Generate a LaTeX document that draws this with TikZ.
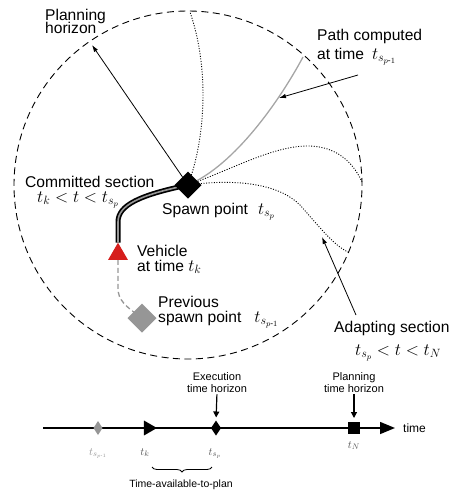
\documentclass[tikz,border=0pt]{standalone}
\usepackage{fontspec}
\setmainfont{Liberation Sans}
\usepackage{amsmath}
\usetikzlibrary{arrows.meta,shapes.geometric,decorations.pathreplacing}
\definecolor{vred}{RGB}{214,30,28}
\definecolor{pgray}{RGB}{165,165,165}
\definecolor{dgray}{RGB}{150,150,150}
\definecolor{lgray}{RGB}{85,85,85}
\pgfdeclarelayer{bg}
\pgfsetlayers{bg,main}
\newcommand\mytwoline[3]{\vtop{\baselineskip=#1\lineskiplimit=-100pt\lineskip=0pt\hbox{#2}\hbox{#3}}}
\newcommand\mybigmath[1]{{\fontsize{17}{17}\selectfont#1}}
\begin{document}
\begin{tikzpicture}[x=1pt,y=-1pt,
  lbl/.style={anchor=base west, inner sep=0pt, font=\fontsize{15.6}{15.6}\selectfont},
  smalllbl/.style={anchor=base, inner sep=0pt, font=\fontsize{11}{11}\selectfont},
  tlab/.style={anchor=base, inner sep=0pt, font=\fontsize{11}{11}\selectfont, text=lgray},
  dotpath/.style={line width=0.9pt, dash pattern=on 1pt off 1.6pt},
  thinarrow/.style={line width=0.8pt, -{Latex[length=7pt,width=4.5pt]}},
  downarrow/.style={line width=1.2pt, -{Triangle[length=6pt,width=6pt]}},
  blank/.style={inner sep=0pt, outer sep=0pt}
]
\useasboundingbox (0,0) rectangle (454,491);

% horizon circle and markers
\node[blank, circle, draw, line width=0.9pt, dash pattern=on 7pt off 4.5pt, minimum size=348pt] (hor) at (188,185) {};
\node[blank, diamond, fill=black, minimum width=27pt, minimum height=27pt] (sp) at (188,185) {};
\node[blank, regular polygon, regular polygon sides=3, fill=vred, minimum size=23pt] (veh) at (118,254.2) {};
\node[blank, diamond, fill=dgray, minimum width=29pt, minimum height=29pt] (prev) at (142,318) {};

\coordinate (e1) at (190,12);
\coordinate (e2) at (362,182);
\coordinate (e3) at (348,252);
\coordinate (eg) at (303,57);
\coordinate (ph) at (92,45);
\coordinate (pcA) at (358,75);
\coordinate (pcB) at (279,98);
\coordinate (adA) at (356,315);
\coordinate (adB) at (322,237);

\begin{pgfonlayer}{bg}
\draw[dotpath] (sp.center) .. controls (205,140) and (210,70) .. (e1);
\draw[dotpath] (sp.center) .. controls (235,168) and (275,145) .. (310,146) .. controls (335,147) and (352,160) .. (e2);
\draw[dotpath] (sp.center) .. controls (240,178) and (280,185) .. (300,205) .. controls (318,225) and (333,245) .. (e3);
\draw[pgray, line width=1.3pt] (sp.center) .. controls (235,165) and (280,100) .. (eg);
\draw[thinarrow] (sp.center) -- (ph);
\draw[line width=1.7pt, double=dgray, double distance=1.6pt] (veh.corner 1) -- (118,222) .. controls (118,205) and (140,195) .. (sp.center);
\draw[dgray, line width=1.3pt, dash pattern=on 5pt off 3pt] (veh.south) -- (118,288) .. controls (118,300) and (125,306) .. (prev.center);
\end{pgfonlayer}

\draw[thinarrow] (pcA) -- (pcB);
\draw[thinarrow] (adA) -- (adB);

% circle labels
\node[lbl] (pl) at (45,20) {\mytwoline{13pt}{Planning}{horizon}};
\node[lbl] (pc) at (317,40) {\mytwoline{19pt}{Path computed}{at time\hspace{8pt}\mybigmath{$t_{s_{p\text{-}1}}$}}};
\node[lbl] (cs) at (25,187) {\mytwoline{15pt}{Committed section}{\hspace{12pt}\mybigmath{$t_k < t < t_{s_p}$}}};
\node[lbl] (spl) at (162,214) {Spawn point\hspace{10pt}\mybigmath{$t_{s_p}$}};
\node[lbl] (vh) at (137,256.5) {\mytwoline{14.5pt}{Vehicle}{at time \mybigmath{$t_k$}}};
\node[lbl] (pv) at (158,307) {\mytwoline{15pt}{Previous}{spawn point\hspace{13pt}\mybigmath{$t_{s_{p\text{-}1}}$}}};
\node[lbl] (ad) at (334,332) {\mytwoline{23pt}{Adapting section}{\hspace{21pt}\mybigmath{$t_{s_p} < t < t_N$}}};

% timeline
\coordinate (ta) at (43,428);
\coordinate (tb) at (395,428);
\draw[line width=1.5pt, -{Triangle[length=15pt,width=12pt]}] (ta) -- (tb);
\node[blank, diamond, fill=dgray, minimum width=9pt, minimum height=14pt] (mprev) at (98,428) {};
\node[blank, regular polygon, regular polygon sides=3, shape border rotate=-90, fill=black, minimum size=17.3pt] (mk) at (148.3,428) {};
\node[blank, diamond, fill=black, minimum width=10pt, minimum height=15pt] (msp) at (216,428) {};
\node[blank, rectangle, fill=black, minimum size=12pt] (mN) at (354,428) {};

\node[smalllbl] (ex1) at (217,380) {Execution};
\node[smalllbl] (ex2) at (217,392) {time horizon};
\node[smalllbl] (pn1) at (354,380) {Planning};
\node[smalllbl] (pn2) at (354,392) {time horizon};
\draw[downarrow, shorten <=2pt, shorten >=3pt] (ex2.south) -- (msp.north);
\draw[downarrow, shorten <=2pt, shorten >=4pt] (pn2.south) -- (mN.north);
\node[anchor=base west, inner sep=0pt, font=\fontsize{12}{12}\selectfont] (tl) at (403,432) {time};

\node[tlab, text=dgray] (t1) at (98,455) {$t_{s_{p\text{-}1}}$};
\node[tlab] (t2) at (145,455) {$t_k$};
\node[tlab] (t3) at (215,455) {$t_{s_p}$};
\node[tlab] (t4) at (354,448) {$t_N$};

\coordinate (br1) at (152,467);
\coordinate (br2) at (212,467);
\draw[decorate, decoration={brace, mirror, amplitude=5pt}, line width=0.8pt] (br1) -- (br2);
\node[anchor=base, inner sep=0pt, font=\fontsize{10.5}{10.5}\selectfont] (tap) at (181,487) {Time-available-to-plan};
\end{tikzpicture}
\end{document}
